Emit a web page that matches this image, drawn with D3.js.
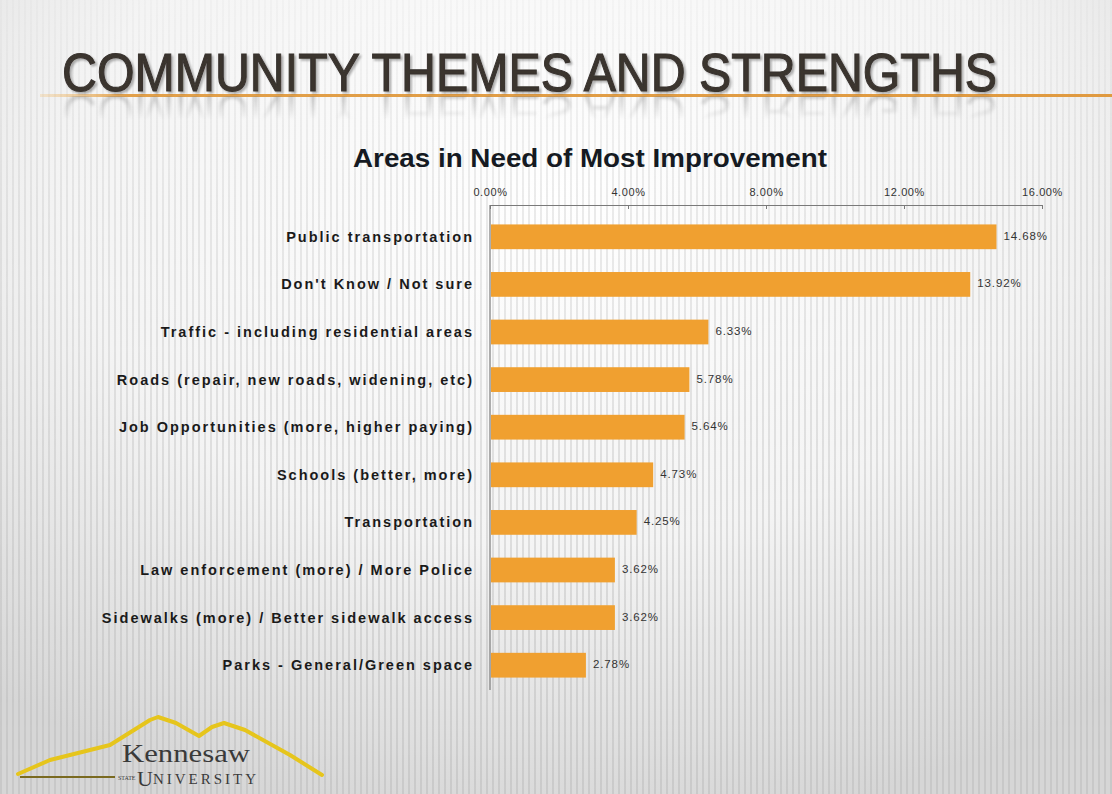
<!DOCTYPE html>
<html><head><meta charset="utf-8">
<script src="https://cdn.jsdelivr.net/npm/d3@7"></script>
<style>html,body{margin:0;padding:0;background:#fff;}svg{display:block;}</style>
</head><body>
<script>
const categories = [
  "Public transportation",
  "Don't Know / Not sure",
  "Traffic - including residential areas",
  "Roads (repair, new roads, widening, etc)",
  "Job Opportunities (more, higher paying)",
  "Schools (better, more)",
  "Transportation",
  "Law enforcement (more) / More Police",
  "Sidewalks (more) / Better sidewalk access",
  "Parks - General/Green space"
];
const values = [0.1468, 0.1392, 0.0633, 0.0578, 0.0564, 0.0473, 0.0425, 0.0362, 0.0362, 0.0278];
const valueLabels = ["14.68%","13.92%","6.33%","5.78%","5.64%","4.73%","4.25%","3.62%","3.62%","2.78%"];
const tickValues = [0, 0.04, 0.08, 0.12, 0.16];
const slideTitle = "COMMUNITY THEMES AND STRENGTHS";
const chartTitle = "Areas in Need of Most Improvement";

const W = 1112, H = 794;
const svg = d3.select("body").append("svg").attr("width", W).attr("height", H);
const defs = svg.append("defs");

// background
const bgGrad = defs.append("radialGradient").attr("id","bgG").attr("cx","0.5").attr("cy","0.25").attr("r","0.8");
bgGrad.append("stop").attr("offset","0").attr("stop-color","#ffffff");
bgGrad.append("stop").attr("offset","0.55").attr("stop-color","#f4f4f4");
bgGrad.append("stop").attr("offset","1").attr("stop-color","#d6d6d6");
svg.append("rect").attr("width",W).attr("height",H).attr("fill","url(#bgG)");
const pat = defs.append("pattern").attr("id","stripes").attr("patternUnits","userSpaceOnUse").attr("width",6).attr("height",40);
pat.append("rect").attr("x",0).attr("y",0).attr("width",2).attr("height",40).attr("fill","#b8b8b8");
const fadeG = defs.append("linearGradient").attr("id","fadeG").attr("x1",0).attr("y1",0).attr("x2",0).attr("y2",1);
fadeG.append("stop").attr("offset","0").attr("stop-color","#fff").attr("stop-opacity",0.15);
fadeG.append("stop").attr("offset","0.25").attr("stop-color","#fff").attr("stop-opacity",0.55);
fadeG.append("stop").attr("offset","1").attr("stop-color","#fff").attr("stop-opacity",0.95);
const mask = defs.append("mask").attr("id","stripeMask");
mask.append("rect").attr("width",W).attr("height",H).attr("fill","url(#fadeG)");
svg.append("rect").attr("width",W).attr("height",H).attr("fill","url(#stripes)").attr("opacity",0.5).attr("mask","url(#stripeMask)");

// orange line under title
const lineG = defs.append("linearGradient").attr("id","lineG").attr("x1",0).attr("x2",1);
lineG.append("stop").attr("offset","0").attr("stop-color","#f2c27a").attr("stop-opacity",0.3);
lineG.append("stop").attr("offset","0.08").attr("stop-color","#e2a04a");
lineG.append("stop").attr("offset","1").attr("stop-color","#e09a40");
svg.append("rect").attr("x",40).attr("y",94).attr("width",W-40).attr("height",3).attr("fill","url(#lineG)");

// slide title with shadow and reflection
const shadow = defs.append("filter").attr("id","tShadow").attr("x","-5%").attr("y","-20%").attr("width","110%").attr("height","150%");
shadow.append("feGaussianBlur").attr("in","SourceAlpha").attr("stdDeviation",1.2).attr("result","b");
shadow.append("feOffset").attr("in","b").attr("dx",1.5).attr("dy",2).attr("result","o");
shadow.append("feComponentTransfer").attr("in","o").attr("result","o2")
  .append("feFuncA").attr("type","linear").attr("slope",0.3);
const mrg = shadow.append("feMerge");
mrg.append("feMergeNode").attr("in","o2");
mrg.append("feMergeNode").attr("in","SourceGraphic");

const blurF = defs.append("filter").attr("id","rBlur");
blurF.append("feGaussianBlur").attr("stdDeviation",1.5);

const rmG = defs.append("linearGradient").attr("id","reflMaskG").attr("x1",0).attr("y1",0).attr("x2",0).attr("y2",1);
rmG.append("stop").attr("offset","0").attr("stop-color","#fff").attr("stop-opacity",0.35);
rmG.append("stop").attr("offset","0.7").attr("stop-color","#fff").attr("stop-opacity",0);
const rMask = defs.append("mask").attr("id","reflMask").attr("maskUnits","userSpaceOnUse")
  .attr("x",0).attr("y",0).attr("width",W).attr("height",H);
rMask.append("rect").attr("x",0).attr("y",96).attr("width",W).attr("height",34).attr("fill","url(#reflMaskG)");

defs.append("text").attr("id","titleText").attr("x",62).attr("y",91)
  .attr("font-family","'Liberation Sans',Arial,sans-serif")
  .attr("font-size",53)
  .attr("textLength",935).attr("lengthAdjust","spacingAndGlyphs")
  .text(slideTitle);
svg.append("g").attr("mask","url(#reflMask)")
  .append("use").attr("href","#titleText")
  .attr("transform","translate(0,186) scale(1,-1)")
  .attr("fill","#777").attr("filter","url(#rBlur)");
svg.append("use").attr("href","#titleText").attr("fill","#3a342f")
  .attr("stroke","#3a342f").attr("stroke-width",1.1).attr("filter","url(#tShadow)");

// chart title
svg.append("text").attr("x",590).attr("y",167).attr("text-anchor","middle")
  .attr("font-family","'Liberation Sans',Arial,sans-serif").attr("font-weight","bold")
  .attr("font-size",25).attr("fill","#151a22")
  .attr("textLength",474).attr("lengthAdjust","spacingAndGlyphs")
  .text(chartTitle);

// scales
const x = d3.scaleLinear().domain([0, 0.16]).range([490, 1042]);
const y = d3.scaleBand().domain(categories).range([213, 689]).paddingInner(0.48).paddingOuter(0.24);

// top axis
const axis = d3.axisTop(x).tickValues(tickValues).tickFormat(d3.format(".2%")).tickSizeInner(-4).tickSizeOuter(0);
const gAx = svg.append("g").attr("transform","translate(0,205)").call(axis);
gAx.select(".domain").attr("stroke","#7a7a7a").attr("stroke-width",1.2);
gAx.selectAll(".tick line").attr("stroke","#7a7a7a");
gAx.selectAll(".tick text").attr("y",-9).attr("font-family","'Liberation Sans',Arial,sans-serif")
  .attr("font-size",11).attr("letter-spacing","0.6px").attr("fill","#333");

// vertical axis
const gY = svg.append("g").attr("transform","translate(490,0)")
  .call(d3.axisLeft(y).tickSize(0).tickFormat(""));
gY.select(".domain").attr("stroke","#7a7a7a").attr("stroke-width",1.2).attr("d","M0,205V690");

// bars
svg.append("g").selectAll("rect").data(categories).join("rect")
  .attr("x", x(0)+1)
  .attr("y", d => y(d))
  .attr("width", (d,i) => x(values[i]) - x(0) - 1)
  .attr("height", y.bandwidth())
  .attr("fill", "#f0a030");

// category labels
svg.append("g").selectAll("text").data(categories).join("text")
  .attr("x", 474)
  .attr("y", d => y(d) + y.bandwidth()/2)
  .attr("dy","0.35em")
  .attr("text-anchor","end")
  .attr("font-family","'Liberation Sans',Arial,sans-serif").attr("font-weight","bold")
  .attr("font-size",14.5).attr("letter-spacing","2px").attr("fill","#1a1a1a")
  .text(d => d);

// value labels
svg.append("g").selectAll("text").data(categories).join("text")
  .attr("x", (d,i) => x(values[i]) + 7)
  .attr("y", d => y(d) + y.bandwidth()/2 - 1)
  .attr("dy","0.35em")
  .attr("font-family","'Liberation Sans',Arial,sans-serif")
  .attr("font-size",11.5).attr("letter-spacing","0.9px").attr("fill","#333")
  .text((d,i) => valueLabels[i]);

// logo
const logo = svg.append("g");
logo.append("path")
  .attr("d","M18,774 L50,760 L110,745 L150,720 L158,717 L176,723 L199,736 L212,727 L224,723 L245,730 L290,755 L322,775")
  .attr("fill","none").attr("stroke","#e6c51c").attr("stroke-width",4).attr("stroke-linejoin","round").attr("stroke-linecap","round");
logo.append("path").attr("d","M20,777 L115,777").attr("stroke","#7a6a20").attr("stroke-width",2);
logo.append("text").attr("x",122).attr("y",762)
  .attr("font-family","'Liberation Serif','DejaVu Serif',serif").attr("font-size",25).attr("fill","#3a3a3a")
  .attr("textLength",128).attr("lengthAdjust","spacingAndGlyphs")
  .text("Kennesaw");
const uni = logo.append("text").attr("x",118).attr("y",786)
  .attr("font-family","'Liberation Serif',serif").attr("fill","#3a3a3a");
uni.append("tspan").attr("font-size",6).attr("dy",-6).text("STATE ");
uni.append("tspan").attr("font-size",22).attr("dy",6).text("U");
uni.append("tspan").attr("font-size",15).attr("dy",-2).attr("letter-spacing","3px").text("NIVERSITY");
</script>
</body></html>
